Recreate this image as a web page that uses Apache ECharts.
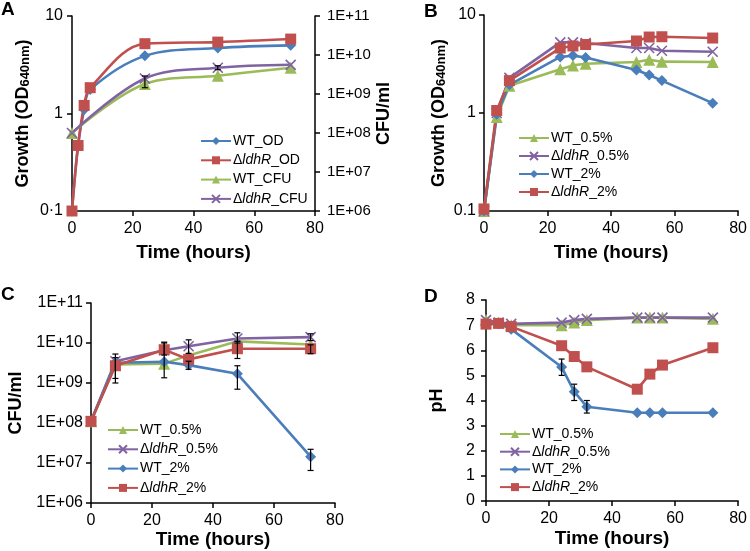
<!DOCTYPE html>
<html>
<head>
<meta charset="utf-8">
<script src="https://cdn.jsdelivr.net/npm/echarts@6/dist/echarts.min.js"></script>
<style>html,body{margin:0;padding:0;background:#fff;}#c{width:750px;height:551px;}</style>
</head>
<body>
<div id="c"></div>
<script>
// ---------- Data ----------
// Panel A
const timeA_OD = [0, 2, 4, 6, 24, 48, 72];
const wtOD_A = [0.1, 0.47, 1.1, 1.76, 3.9, 4.7, 5.0];
const ldhrOD_A = [0.1, 0.47, 1.21, 1.84, 5.2, 5.4, 5.8];
const timeA_CFU = [0, 24, 48, 72];
const wtCFU_A = [1.0e8, 1.8e9, 2.95e9, 4.7e9];
const ldhrCFU_A = [1.0e8, 2.5e9, 4.7e9, 5.6e9];
const errA_wtCFU = [[24, 1.45e9, 2.9e9]];
const errA_ldhrCFU = [[48, 4.2e9, 5.3e9]];
// Panel B (growth OD)
const timeB = [0, 4, 8, 24, 28, 32, 48, 52, 56, 72];
const wt05_B = [0.1, 0.91, 1.9, 2.79, 3.06, 3.18, 3.31, 3.5, 3.34, 3.31];
const ldhr05_B = [0.1, 1.0, 2.28, 5.25, 5.25, 5.18, 4.6, 4.6, 4.32, 4.22];
const wt2_B = [0.1, 0.97, 1.94, 3.73, 3.85, 3.69, 2.75, 2.44, 2.14, 1.26];
const ldhr2_B = [0.105, 1.06, 2.14, 4.6, 4.83, 5.0, 5.43, 5.96, 6.0, 5.82];
// Panel C (CFU/ml)
const timeC = [0, 8, 24, 32, 48, 72];
const wt05_C = [1.1e8, 2.9e9, 3.05e9, 4.9e9, 1.1e10, 9.2e9];
const ldhr05_C = [1.1e8, 3.5e9, 6.6e9, 8.3e9, 1.3e10, 1.4e10];
const wt2_C = [1.1e8, 3.2e9, 3.4e9, 2.8e9, 1.7e9, 1.44e7];
const ldhr2_C = [1.1e8, 2.7e9, 6.8e9, 3.9e9, 7.2e9, 7.2e9];
const errC_wt05 = [[8, 1.3e9, 4.3e9]];
const errC_ldhr05 = [[32, 5.5e9, 1.2e10], [48, 1.0e10, 1.8e10], [72, 1.15e10, 1.7e10]];
const errC_wt2 = [[8, 1.0e9, 5.3e9], [24, 1.35e9, 1.05e10], [32, 2.2e9, 3.5e9], [48, 7e8, 2.7e9], [72, 6.5e6, 2.2e7]];
const errC_ldhr2 = [[24, 5e9, 1.0e10], [48, 4.1e9, 1.1e10], [72, 5.4e9, 9e9]];
// Panel D (pH)
const timeD = [0, 4, 8, 24, 28, 32, 48, 52, 56, 72];
const wt05_D = [7.2, 7.1, 7.0, 7.0, 7.1, 7.2, 7.3, 7.3, 7.3, 7.25];
const ldhr05_D = [7.2, 7.1, 7.05, 7.1, 7.2, 7.25, 7.3, 7.3, 7.3, 7.3];
const wt2_D = [7.04, 7.05, 6.84, 5.33, 4.35, 3.75, 3.51, 3.51, 3.51, 3.51];
const ldhr2_D = [7.04, 7.07, 6.94, 6.18, 5.75, 5.34, 4.45, 5.05, 5.41, 6.1];
const errD_wt2 = [[24, 5.0, 5.65], [28, 4.0, 4.65], [32, 3.5, 4.0]];

const xTicks = [0, 20, 40, 60, 80];

// ---------- Styles ----------
const BLUE = '#4a7ebb', RED = '#c0504d', GREEN = '#9bbb59', PURPLE = '#8064a2';
const FONT = 'Liberation Sans, Arial, sans-serif';
const XPATH = 'path://M0,0L10,10M10,0L0,10';

function zip(xs, ys) { return xs.map((x, i) => [x, ys[i]]); }

function lineSeries(name, xs, ys, color, symbol, xi, yi, smooth) {
  const isX = symbol === 'x';
  return {
    type: 'line', name: name, xAxisIndex: xi, yAxisIndex: yi,
    data: zip(xs, ys), smooth: smooth ? 0.35 : false,
    symbol: isX ? XPATH : symbol,
    symbolSize: isX ? 10 : (symbol === 'triangle' ? 12 : 11),
    showSymbol: true,
    lineStyle: { color: color, width: 2.6 },
    itemStyle: isX ? { color: color, borderColor: color, borderWidth: 1.6 } : { color: color, borderWidth: 0 },
    emphasis: { disabled: true },
    z: 2
  };
}

function errRender(params, api) {
  const x = api.value(0), lo = api.value(1), hi = api.value(2);
  const p1 = api.coord([x, lo]), p2 = api.coord([x, hi]);
  const w = 3;
  const st = { stroke: '#000', lineWidth: 1.2 };
  return {
    type: 'group', children: [
      { type: 'line', shape: { x1: p1[0], y1: p1[1], x2: p2[0], y2: p2[1] }, style: st },
      { type: 'line', shape: { x1: p1[0] - w, y1: p1[1], x2: p1[0] + w, y2: p1[1] }, style: st },
      { type: 'line', shape: { x1: p2[0] - w, y1: p2[1], x2: p2[0] + w, y2: p2[1] }, style: st }
    ]
  };
}
function errSeries(data, xi, yi) {
  return { type: 'custom', xAxisIndex: xi, yAxisIndex: yi, data: data, encode: { x: 0, y: [1, 2] },
           renderItem: errRender, silent: true, z: 4 };
}

const axisLineStyle = { show: true, lineStyle: { color: '#000', width: 1.5 } };
const axisTickStyle = { show: true, inside: false, length: 5, lineStyle: { color: '#000', width: 1.5 } };
const tickLabel = { color: '#000', fontSize: 16, fontFamily: FONT };
const nameStyle = {
  color: '#000', fontSize: 18, fontWeight: 'bold', fontFamily: FONT,
  rich: { sub: { fontSize: 13, fontWeight: 'bold', fontFamily: FONT, color: '#000', lineHeight: 13, padding: [11, 0, 0, 0], verticalAlign: 'bottom' } }
};

function xAxis(grid, gap) {
  return {
    type: 'value', gridIndex: grid, min: xTicks[0], max: xTicks[xTicks.length - 1], interval: xTicks[1] - xTicks[0],
    axisLine: axisLineStyle, axisTick: axisTickStyle, splitLine: { show: false },
    axisLabel: Object.assign({ margin: 10 }, tickLabel),
    name: 'Time (hours)', nameLocation: 'middle', nameGap: gap, nameTextStyle: Object.assign({}, nameStyle, { fontSize: 19 })
  };
}
function pow10Label(v) {
  const e = Math.round(Math.log10(v));
  return '1E+' + (e < 10 ? '0' + e : String(e));
}

const legendRich = { i: { fontStyle: 'italic', fontSize: 14, fontFamily: FONT, color: '#000' } };
function legend(names, left, top, gap) {
  return {
    data: names, orient: 'vertical', left: left, top: top, itemGap: gap,
    itemWidth: 30, itemHeight: 10, padding: 0, selectedMode: false,
    textStyle: { fontSize: 14, fontFamily: FONT, color: '#000', lineHeight: 16, padding: [0, 0, 0, -3], rich: legendRich },
    formatter: function (n) { return n.replace('ldhR', '{i|ldhR}'); }
  };
}

const names4 = ['WT_0.5%', '\u0394ldhR_0.5%', 'WT_2%', '\u0394ldhR_2%'];

const option = {
  animation: false,
  backgroundColor: '#fff',
  grid: [
    { left: 72, top: 16, width: 243, height: 195 },
    { left: 484, top: 15, width: 257, height: 196 },
    { left: 91, top: 303, width: 244, height: 200 },
    { left: 486, top: 300, width: 255, height: 201 }
  ],
  xAxis: [xAxis(0, 32), xAxis(1, 32), xAxis(2, 27), xAxis(3, 28)],
  yAxis: [
    { type: 'log', logBase: 10, gridIndex: 0, min: 0.1, max: 10,
      axisLine: axisLineStyle, axisTick: axisTickStyle, splitLine: { show: false }, minorTick: { show: false },
      axisLabel: Object.assign({ margin: 9, formatter: v => Math.abs(v - 0.1) < 1e-9 ? '0\u00b71' : String(Math.round(v)) }, tickLabel),
      name: 'Growth (OD{sub|640nm})', nameLocation: 'middle', nameRotate: 90, nameGap: 40, nameTextStyle: nameStyle },
    { type: 'log', logBase: 10, gridIndex: 0, min: 1e6, max: 1e11, position: 'right',
      axisLine: axisLineStyle, axisTick: axisTickStyle, splitLine: { show: false },
      axisLabel: Object.assign({ margin: 12, formatter: pow10Label }, tickLabel, { fontSize: 15 }),
      name: 'CFU/ml', nameLocation: 'middle', nameRotate: 90, nameGap: 58, nameTextStyle: nameStyle },
    { type: 'log', logBase: 10, gridIndex: 1, min: 0.1, max: 10,
      axisLine: axisLineStyle, axisTick: axisTickStyle, splitLine: { show: false },
      axisLabel: Object.assign({ margin: 8, formatter: v => v < 0.5 ? '0.1' : String(Math.round(v)) }, tickLabel),
      name: 'Growth (OD{sub|640nm})', nameLocation: 'middle', nameRotate: 90, nameGap: 36, nameTextStyle: nameStyle },
    { type: 'log', logBase: 10, gridIndex: 2, min: 1e6, max: 1e11,
      axisLine: axisLineStyle, axisTick: axisTickStyle, splitLine: { show: false },
      axisLabel: Object.assign({ margin: 8, formatter: pow10Label }, tickLabel),
      name: 'CFU/ml', nameLocation: 'middle', nameRotate: 90, nameGap: 66, nameTextStyle: nameStyle },
    { type: 'value', gridIndex: 3, min: 0, max: 8, interval: 1,
      axisLine: axisLineStyle, axisTick: axisTickStyle, splitLine: { show: false },
      axisLabel: Object.assign({ margin: 11 }, tickLabel),
      name: 'pH', nameLocation: 'middle', nameRotate: 90, nameGap: 40, nameTextStyle: nameStyle }
  ],
  legend: [
    legend(['WT_OD', '\u0394ldhR_OD', 'WT_CFU', '\u0394ldhR_CFU'], 200, 133, 3.3),
    legend(names4, 518, 130, 2),
    legend(names4, 107, 422, 3.3),
    legend(names4, 499, 426, 1.7)
  ],
  graphic: [
    { type: 'text', left: 1, top: 0, style: { text: 'A', font: 'bold 19px ' + FONT, fill: '#000' } },
    { type: 'text', left: 424, top: 2, style: { text: 'B', font: 'bold 19px ' + FONT, fill: '#000' } },
    { type: 'text', left: 1, top: 285, style: { text: 'C', font: 'bold 19px ' + FONT, fill: '#000' } },
    { type: 'text', left: 424, top: 287, style: { text: 'D', font: 'bold 19px ' + FONT, fill: '#000' } }
  ],
  series: [
    // A
    lineSeries('WT_OD', timeA_OD, wtOD_A, BLUE, 'diamond', 0, 0, true),
    lineSeries('\u0394ldhR_OD', timeA_OD, ldhrOD_A, RED, 'rect', 0, 0, true),
    lineSeries('WT_CFU', timeA_CFU, wtCFU_A, GREEN, 'triangle', 0, 1, true),
    lineSeries('\u0394ldhR_CFU', timeA_CFU, ldhrCFU_A, PURPLE, 'x', 0, 1, true),
    errSeries(errA_wtCFU, 0, 1),
    errSeries(errA_ldhrCFU, 0, 1),
    // B
    lineSeries(names4[0], timeB, wt05_B, GREEN, 'triangle', 1, 2, false),
    lineSeries(names4[1], timeB, ldhr05_B, PURPLE, 'x', 1, 2, false),
    lineSeries(names4[2], timeB, wt2_B, BLUE, 'diamond', 1, 2, false),
    lineSeries(names4[3], timeB, ldhr2_B, RED, 'rect', 1, 2, false),
    // C
    lineSeries(names4[0], timeC, wt05_C, GREEN, 'triangle', 2, 3, false),
    lineSeries(names4[1], timeC, ldhr05_C, PURPLE, 'x', 2, 3, false),
    lineSeries(names4[2], timeC, wt2_C, BLUE, 'diamond', 2, 3, false),
    lineSeries(names4[3], timeC, ldhr2_C, RED, 'rect', 2, 3, false),
    errSeries(errC_wt05, 2, 3),
    errSeries(errC_ldhr05, 2, 3),
    errSeries(errC_wt2, 2, 3),
    errSeries(errC_ldhr2, 2, 3),
    // D
    lineSeries(names4[0], timeD, wt05_D, GREEN, 'triangle', 3, 4, false),
    lineSeries(names4[1], timeD, ldhr05_D, PURPLE, 'x', 3, 4, false),
    lineSeries(names4[2], timeD, wt2_D, BLUE, 'diamond', 3, 4, false),
    lineSeries(names4[3], timeD, ldhr2_D, RED, 'rect', 3, 4, false),
    errSeries(errD_wt2, 3, 4)
  ]
};

const chart = echarts.init(document.getElementById('c'), null, { renderer: 'canvas' });
chart.setOption(option);
</script>
</body>
</html>
